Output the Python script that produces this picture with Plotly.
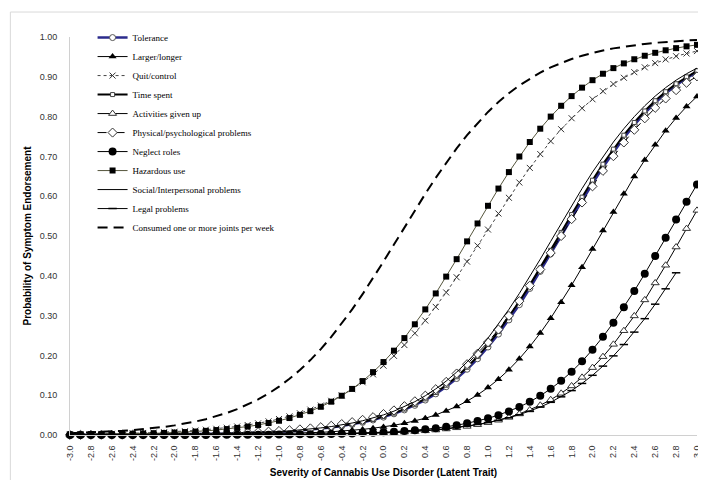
import plotly.graph_objects as go

# Severity (latent trait) values at which each curve is plotted
severity = [-3.0, -2.9, -2.8, -2.7, -2.6, -2.5, -2.4, -2.3, -2.2, -2.1,
            -2.0, -1.9, -1.8, -1.7, -1.6, -1.5, -1.4, -1.3, -1.2, -1.1,
            -1.0, -0.9, -0.8, -0.7, -0.6, -0.5, -0.4, -0.3, -0.2, -0.1,
            0.0, 0.1, 0.2, 0.3, 0.4, 0.5, 0.6, 0.7, 0.8, 0.9,
            1.0, 1.1, 1.2, 1.3, 1.4, 1.5, 1.6, 1.7, 1.8, 1.9,
            2.0, 2.1, 2.2, 2.3, 2.4, 2.5, 2.6, 2.7, 2.8, 2.9,
            3.0]

tick_vals = [-3.0, -2.8, -2.6, -2.4, -2.2, -2.0, -1.8, -1.6, -1.4, -1.2, -1.0,
             -0.8, -0.6, -0.4, -0.2, 0.0, 0.2, 0.4, 0.6, 0.8, 1.0,
             1.2, 1.4, 1.6, 1.8, 2.0, 2.2, 2.4, 2.6, 2.8, 3.0]
tick_text = ["-3.0", "-2.8", "-2.6", "-2.4", "-2.2", "-2.0", "-1.8", "-1.6", "-1.4", "-1.2", "-1.0",
             "-0.8", "-0.6", "-0.4", "-0.2", "0.0", "0.2", "0.4", "0.6", "0.8", "1.0",
             "1.2", "1.4", "1.6", "1.8", "2.0", "2.2", "2.4", "2.6", "2.8", "3.0"]

tolerance = [.0002, .0003, .0003, .0004, .0004, .0005, .0006, .0007, .0009, .0011,
             .0013, .0015, .0018, .0022, .0026, .0031, .0038, .0045, .0054, .0064,
             .0077, .0092, .0110, .0131, .0157, .0187, .0223, .0266, .0317, .0377,
             .0448, .0532, .0630, .0745, .0878, .1034, .1213, .1419, .1652, .1915,
             .2210, .2535, .2891, .3274, .3682, .4110, .4551, .5000, .5449, .5890,
             .6318, .6726, .7109, .7465, .7790, .8085, .8348, .8581, .8787, .8966,
             .9122]

larger_longer = [.0001, .0001, .0001, .0001, .0002, .0002, .0002, .0003, .0003, .0004,
                 .0005, .0006, .0007, .0009, .0010, .0013, .0015, .0018, .0022, .0027,
                 .0032, .0039, .0046, .0056, .0067, .0081, .0098, .0118, .0141, .0170,
                 .0204, .0245, .0294, .0352, .0422, .0504, .0602, .0716, .0851, .1008,
                 .1191, .1401, .1642, .1915, .2222, .2562, .2934, .3336, .3764, .4212,
                 .4673, .5140, .5605, .6059, .6496, .6909, .7293, .7646, .7966, .8252,
                 .8506]

quit_control = [.0016, .0019, .0023, .0027, .0031, .0037, .0043, .0051, .0060, .0070,
                .0082, .0096, .0113, .0133, .0156, .0183, .0214, .0251, .0293, .0343,
                .0401, .0468, .0546, .0637, .0740, .0859, .0995, .1150, .1325, .1523,
                .1743, .1989, .2260, .2556, .2876, .3219, .3582, .3963, .4356, .4758,
                .5162, .5565, .5960, .6344, .6711, .7058, .7383, .7683, .7959, .8210,
                .8435, .8638, .8818, .8976, .9116, .9238, .9344, .9437, .9517, .9586,
                .9646]

time_spent = [.0002, .0003, .0003, .0004, .0004, .0005, .0006, .0008, .0009, .0011,
              .0013, .0016, .0019, .0023, .0027, .0032, .0039, .0047, .0056, .0066,
              .0080, .0095, .0114, .0136, .0163, .0194, .0231, .0275, .0328, .0390,
              .0463, .0550, .0651, .0770, .0907, .1067, .1251, .1463, .1702, .1971,
              .2272, .2603, .2965, .3353, .3766, .4197, .4640, .5090, .5538, .5977,
              .6402, .6805, .7183, .7533, .7852, .8141, .8398, .8625, .8825, .8999,
              .9151]

activities_given_up = [.0001, .0001, .0001, .0001, .0001, .0001, .0001, .0001, .0001, .0001,
                       .0001, .0002, .0002, .0002, .0003, .0003, .0004, .0005, .0006, .0007,
                       .0008, .0010, .0011, .0014, .0017, .0020, .0024, .0029, .0035, .0042,
                       .0050, .0060, .0072, .0087, .0105, .0125, .0151, .0181, .0216, .0259,
                       .0310, .0371, .0443, .0529, .0629, .0747, .0886, .1047, .1233, .1448,
                       .1693, .1968, .2278, .2620, .2992, .3394, .3820, .4265, .4723, .5185,
                       .5644]

physical_psychological = [.0003, .0004, .0005, .0006, .0007, .0008, .0009, .0011, .0013, .0016,
                          .0019, .0022, .0026, .0031, .0036, .0043, .0051, .0061, .0072, .0085,
                          .0101, .0119, .0141, .0166, .0196, .0232, .0274, .0323, .0381, .0448,
                          .0527, .0618, .0724, .0847, .0988, .1150, .1335, .1545, .1780, .2043,
                          .2332, .2650, .2994, .3363, .3752, .4158, .4576, .5000, .5424, .5842,
                          .6248, .6637, .7006, .7350, .7668, .7957, .8220, .8455, .8665, .8850,
                          .9012]

neglect_roles = [.0001, .0001, .0001, .0001, .0001, .0001, .0001, .0001, .0001, .0001,
                 .0002, .0002, .0002, .0003, .0004, .0004, .0005, .0006, .0008, .0009,
                 .0011, .0014, .0016, .0019, .0023, .0028, .0034, .0040, .0048, .0058,
                 .0070, .0084, .0100, .0120, .0144, .0172, .0206, .0246, .0295, .0352,
                 .0419, .0499, .0593, .0704, .0834, .0986, .1160, .1361, .1591, .1851,
                 .2144, .2468, .2823, .3208, .3619, .4052, .4499, .4955, .5412, .5861,
                 .6297]

hazardous_use = [.0010, .0012, .0015, .0017, .0021, .0025, .0030, .0036, .0043, .0051,
                 .0061, .0073, .0087, .0104, .0124, .0149, .0178, .0212, .0252, .0301,
                 .0358, .0426, .0506, .0599, .0709, .0837, .0986, .1158, .1355, .1580,
                 .1833, .2119, .2435, .2782, .3156, .3557, .3980, .4418, .4865, .5315,
                 .5759, .6192, .6606, .6997, .7361, .7696, .8000, .8272, .8515, .8728,
                 .8915, .9077, .9218, .9337, .9441, .9529, .9603, .9666, .9720, .9765,
                 .9803]

social_interpersonal = [.0002, .0003, .0003, .0004, .0005, .0006, .0007, .0008, .0010, .0012,
                        .0015, .0017, .0021, .0025, .0030, .0036, .0043, .0051, .0061, .0073,
                        .0087, .0104, .0124, .0149, .0178, .0212, .0252, .0301, .0358, .0426,
                        .0506, .0599, .0709, .0837, .0986, .1158, .1355, .1580, .1833, .2119,
                        .2435, .2782, .3156, .3557, .3980, .4418, .4865, .5315, .5759, .6192,
                        .6606, .6997, .7361, .7696, .8000, .8272, .8515, .8728, .8915, .9077,
                        .9218]

legal_problems = [.0001, .0001, .0001, .0001, .0001, .0001, .0001, .0001, .0001, .0002,
                  .0002, .0002, .0003, .0003, .0004, .0005, .0005, .0006, .0008, .0009,
                  .0011, .0013, .0015, .0018, .0021, .0025, .0030, .0035, .0042, .0049,
                  .0059, .0069, .0082, .0097, .0115, .0136, .0161, .0190, .0224, .0265,
                  .0313, .0368, .0433, .0510, .0599, .0702, .0821, .0959, .1116, .1296,
                  .1500, .1731, .1988, .2273, .2585, .2923, .3287, .3673, .4076]

joints_per_week = [.0044, .0053, .0062, .0074, .0088, .0104, .0123, .0146, .0173, .0204,
                   .0242, .0286, .0338, .0398, .0470, .0553, .0650, .0763, .0893, .1043,
                   .1215, .1411, .1633, .1882, .2159, .2464, .2797, .3156, .3538, .3941,
                   .4359, .4785, .5215, .5641, .6059, .6462, .6844, .7203, .7536, .7841,
                   .8118, .8367, .8589, .8785, .8957, .9107, .9237, .9350, .9447, .9530,
                   .9602, .9662, .9714, .9758, .9796, .9827, .9854, .9877, .9896, .9912,
                   .9926]

fig = go.Figure()


def add(name, values, line, marker=None):
    fig.add_trace(go.Scatter(
        x=severity[:len(values)], y=values, name=name,
        mode="lines+markers" if marker else "lines",
        line=line, marker=marker, cliponaxis=False,
    ))


add("Tolerance", tolerance, dict(color="#2B2B8C", width=2.5),
    dict(symbol="circle", size=6, color="white", line=dict(color="#555555", width=1)))
add("Larger/longer", larger_longer, dict(color="black", width=1),
    dict(symbol="triangle-up", size=7, color="black"))
add("Quit/control", quit_control, dict(color="#444444", width=1, dash="dot"),
    dict(symbol="x-thin", size=6, line=dict(color="#333333", width=1)))
add("Time spent", time_spent, dict(color="black", width=2),
    dict(symbol="square", size=4, color="white", line=dict(color="#444444", width=1)))
add("Activities given up", activities_given_up, dict(color="black", width=1),
    dict(symbol="triangle-up", size=7, color="white", line=dict(color="#333333", width=1)))
add("Physical/psychological problems", physical_psychological, dict(color="black", width=1, dash="dash"),
    dict(symbol="diamond", size=7, color="white", line=dict(color="#333333", width=1)))
add("Neglect roles", neglect_roles, dict(color="black", width=1),
    dict(symbol="circle", size=8, color="black"))
add("Hazardous use", hazardous_use, dict(color="#55553c", width=1),
    dict(symbol="square", size=6, color="black"))
add("Social/Interpersonal problems", social_interpersonal, dict(color="black", width=1))
add("Legal problems", legal_problems, dict(color="black", width=1),
    dict(symbol="line-ew", size=6, line=dict(color="black", width=1.5)))
add("Consumed one or more joints per week", joints_per_week,
    dict(color="black", width=2, dash="10px,6px"))

axis_font = dict(family="Liberation Sans, Arial, sans-serif", size=9, color="#333333")
title_font = dict(family="Liberation Sans, Arial, sans-serif", size=10, color="black")

fig.update_layout(
    width=706, height=480,
    margin=dict(l=62, r=13, t=29, b=52),
    paper_bgcolor="white", plot_bgcolor="white",
    showlegend=True,
    legend=dict(x=0.036, y=1.035, xanchor="left", yanchor="top",
                font=dict(family="Liberation Serif, Times New Roman, serif", size=9, color="black"),
                bgcolor="rgba(0,0,0,0)", tracegroupgap=0, itemwidth=30),
    xaxis=dict(range=[-3, 3], tickvals=tick_vals, ticktext=tick_text, tickangle=-90,
               tickfont=axis_font, showgrid=False, zeroline=False,
               showline=True, linecolor="#d0d0d0", linewidth=1, ticks="",
               ticklabelstandoff=6,
               title=dict(text="<b>Severity of Cannabis Use Disorder (Latent Trait)</b>",
                          font=title_font, standoff=8)),
    yaxis=dict(range=[0, 1], dtick=0.1, tickformat=".2f", tickfont=axis_font,
               showgrid=False, zeroline=False, showline=True, linecolor="#d0d0d0",
               linewidth=1, ticks="", ticklabelstandoff=10,
               title=dict(text="<b>Probability of Symptom Endorsement</b>",
                          font=title_font, standoff=6)),
    shapes=[dict(type="rect", xref="paper", yref="paper",
                 x0=-0.0951, x1=1.0158, y0=-0.1153, y1=1.0627,
                 line=dict(color="#d9d9d9", width=1), fillcolor="rgba(0,0,0,0)", layer="below")],
)

fig.write_html("out.html")
